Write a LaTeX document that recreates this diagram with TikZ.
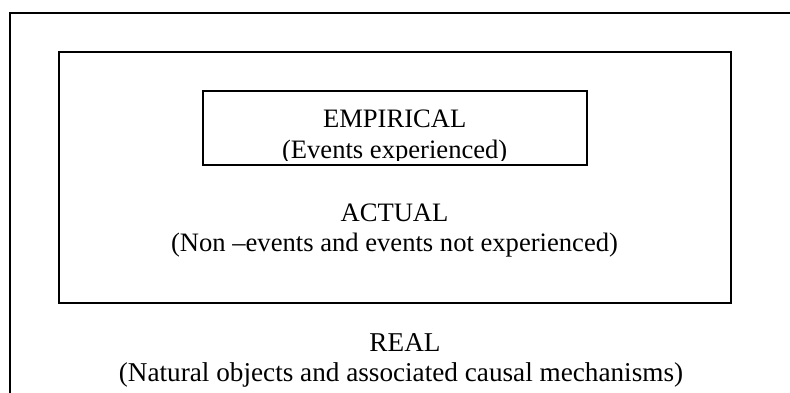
\documentclass[tikz,border=0pt]{standalone}
\usepackage{fontspec}
\setmainfont{Liberation Serif}
\begin{document}
\begin{tikzpicture}[x=1pt,y=-1pt,
  frame/.style={draw=black, line width=2pt, inner sep=0pt},
  txt/.style={font=\fontsize{26.6}{30}\selectfont, inner sep=0pt, anchor=base},
  bigtxt/.style={txt, font=\fontsize{27.2}{30}\selectfont}]
\useasboundingbox (0,0) rectangle (790,393);
\clip (0,0) rectangle (790,393);
% outer (REAL) frame, cut off at right and bottom
\coordinate (otr) at (800,13.5);
\coordinate (otl) at (10.3,13.5);
\coordinate (obl) at (10.3,400);
\draw[frame] (otr) -- (otl) -- (obl);
% ACTUAL box
\node[frame, minimum width=672.5pt, minimum height=250.8pt] (actualbox) at (394.75,177.9) {};
% EMPIRICAL box text (clipped at the bottom)
\begin{scope}
\clip (204,92.5) rectangle (585,160.5);
\node[txt] (emp1) at (394.7,127.5) {EMPIRICAL};
\node[txt] (emp2) at (394.7,158) {(Events experienced)};
\end{scope}
\node[frame, minimum width=384pt, minimum height=74pt] (empbox) at (394.7,128) {};
% ACTUAL text
\node[txt] (act1) at (394.5,221.7) {ACTUAL};
\node[txt] (act2) at (394.5,251.7) {(Non –events and events not experienced)};
% REAL text
\node[bigtxt] (real1) at (405,351.7) {REAL};
\node[bigtxt] (real2) at (401,381.7) {(Natural objects and associated causal mechanisms)};
\end{tikzpicture}
\end{document}
